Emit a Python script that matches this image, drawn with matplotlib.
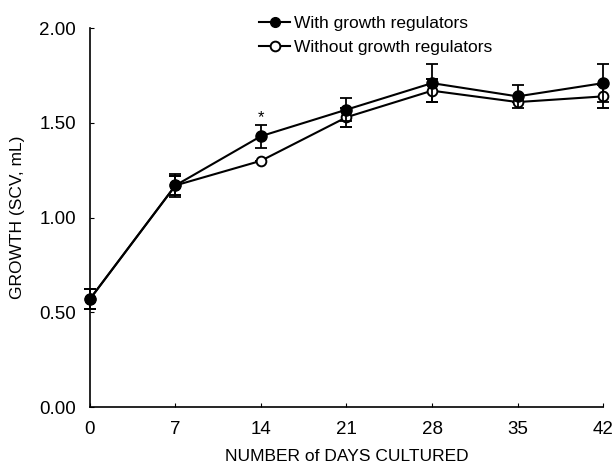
import numpy as np
import matplotlib
matplotlib.use('Agg')
import matplotlib.pyplot as plt
from matplotlib.lines import Line2D

plt.rcParams['font.family'] = ['Liberation Sans', 'DejaVu Sans']

# data
days = [0, 7, 14, 21, 28, 35, 42]
with_reg = [0.57, 1.17, 1.43, 1.57, 1.71, 1.64, 1.71]
with_err = [0.055, 0.06, 0.06, 0.06, 0.10, 0.06, 0.10]
without_reg = [0.57, 1.17, 1.30, 1.53, 1.67, 1.61, 1.64]
without_err = [0.055, 0.05, 0.0, 0.05, 0.06, 0.0, 0.06]
y_ticks = [0.0, 0.5, 1.0, 1.5, 2.0]
y_tick_labels = ['0.00', '0.50', '1.00', '1.50', '2.00']
series_names = ['With growth regulators', 'Without growth regulators']

fig = plt.figure(figsize=(6.16, 4.70), dpi=100)
ax = fig.add_axes([0.146, 0.134, 0.833, 0.806])

ax.errorbar(days, with_reg, yerr=with_err, color='black', marker='o',
            markersize=8, markerfacecolor='black', markeredgecolor='black',
            lw=1.5, elinewidth=1.3, capsize=4, capthick=1.3, clip_on=False,
            zorder=3)
ax.errorbar(days, without_reg, yerr=without_err, color='black', marker='o',
            markersize=7, markerfacecolor='white', markeredgecolor='black',
            markeredgewidth=1.4, lw=1.5, elinewidth=1.3, capsize=4,
            capthick=1.3, clip_on=False, zorder=2)

# significance mark at day 14
ax.text(days[2], with_reg[2] + with_err[2] + 0.04, '*', ha='center',
        va='center', fontsize=12)

ax.set_xlim(0, 42)
ax.set_ylim(0, 2.0)
ax.set_xticks(days)
ax.set_yticks(y_ticks)
ax.set_yticklabels(y_tick_labels)
ax.tick_params(direction='in', length=3, width=0.8, labelsize=13.5, pad=10)
ax.spines['top'].set_visible(False)
ax.spines['right'].set_visible(False)
ax.spines['left'].set_linewidth(1.2)
ax.spines['bottom'].set_linewidth(1.2)

ax.set_xlabel('NUMBER of DAYS CULTURED', fontsize=12.5, labelpad=8)
ax.set_ylabel('GROWTH (SCV, mL)', fontsize=12.5, labelpad=10)

handles = [
    Line2D([], [], color='black', lw=1.5, marker='o', markersize=7,
           markerfacecolor='black'),
    Line2D([], [], color='black', lw=1.5, marker='o', markersize=7,
           markerfacecolor='white', markeredgewidth=1.4),
]
fig.legend(handles, series_names, loc='upper left',
           bbox_to_anchor=(0.395, 1.0), frameon=False, fontsize=12.5,
           handlelength=1.8, handletextpad=0.2, labelspacing=0.55)

fig.savefig('out.png', dpi=100)
